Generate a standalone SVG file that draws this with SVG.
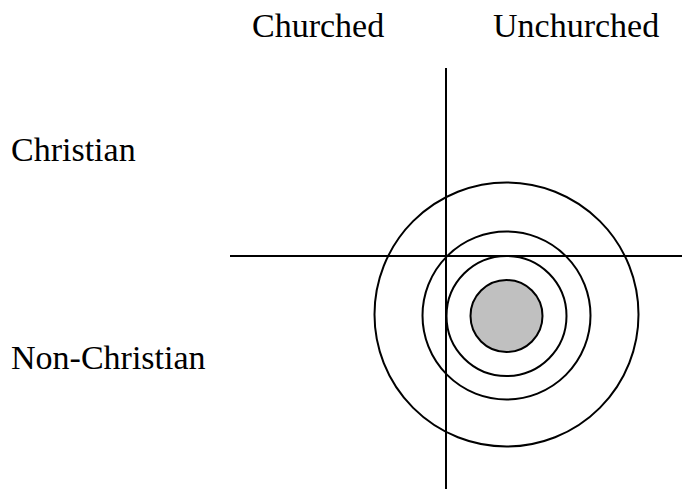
<svg xmlns="http://www.w3.org/2000/svg" width="682" height="489" viewBox="0 0 682 489">
<style>
.t{font-family:'Liberation Serif','Times New Roman','DejaVu Serif',serif;font-size:34px;fill:#000}
.ln{stroke:#000;stroke-width:2;fill:none}
.c{stroke:#000;stroke-width:2;fill:none}
</style>
<rect width="682" height="489" fill="#fff"/>
<g id="axes">
<line class="ln" x1="446" y1="68" x2="446" y2="489"/>
<line class="ln" x1="230" y1="256" x2="682" y2="256"/>
</g>
<g id="circles">
<circle class="c" cx="506.5" cy="314.5" r="132"/>
<circle class="c" cx="506.5" cy="315.5" r="84"/>
<circle class="c" cx="506.5" cy="316" r="60"/>
<circle cx="506.5" cy="316" r="36" fill="#c0c0c0" stroke="#000" stroke-width="2"/>
</g>
<g id="labels">
<text class="t" font-family="Liberation Serif, serif" x="252" y="37">Churched</text>
<text class="t" font-family="Liberation Serif, serif" x="493" y="37">Unchurched</text>
<text class="t" font-family="Liberation Serif, serif" x="11" y="161">Christian</text>
<text class="t" font-family="Liberation Serif, serif" x="11" y="369">Non-Christian</text>
</g>
</svg>
